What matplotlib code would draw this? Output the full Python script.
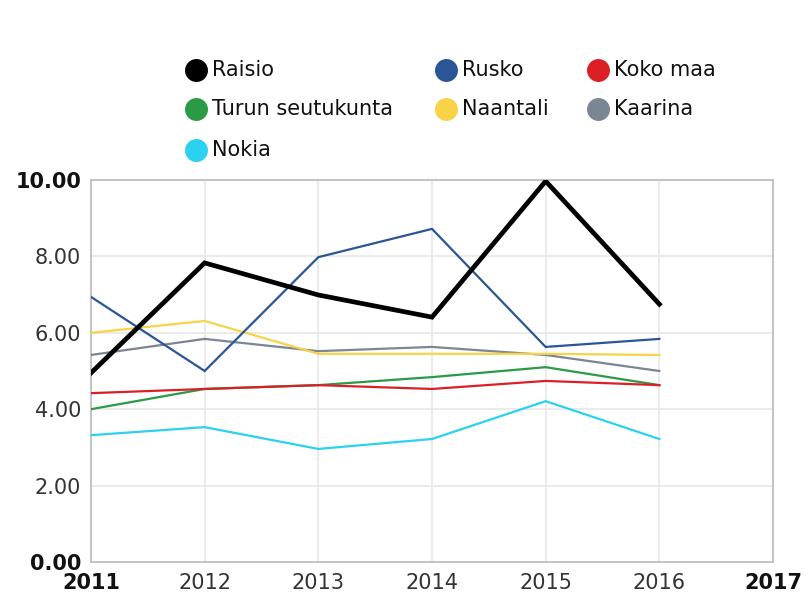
import numpy as np
import matplotlib
matplotlib.use("Agg")
import matplotlib.pyplot as plt
from matplotlib.lines import Line2D

years = [2011, 2012, 2013, 2014, 2015, 2016]

raisio = [4.95, 7.83, 6.99, 6.41, 9.97, 6.75]
rusko = [6.94, 5.0, 7.98, 8.72, 5.63, 5.84]
koko_maa = [4.42, 4.53, 4.63, 4.53, 4.74, 4.63]
turun = [4.0, 4.53, 4.63, 4.84, 5.1, 4.63]
naantali = [6.0, 6.31, 5.45, 5.45, 5.45, 5.42]
kaarina = [5.42, 5.84, 5.52, 5.63, 5.42, 5.0]
nokia = [3.32, 3.53, 2.96, 3.22, 4.21, 3.22]

names = ["Raisio", "Rusko", "Koko maa", "Turun seutukunta", "Naantali", "Kaarina", "Nokia"]
values = [raisio, rusko, koko_maa, turun, naantali, kaarina, nokia]
colors = ["#000000", "#2a5597", "#dc1f26", "#2a9a45", "#f8d348", "#7b8694", "#2bd1f0"]
widths = [3.4, 1.6, 1.6, 1.6, 1.6, 1.6, 1.6]

x_ticks = [2011, 2012, 2013, 2014, 2015, 2016, 2017]
y_ticks = [0, 2, 4, 6, 8, 10]

W, H = 808, 599
fig = plt.figure(figsize=(W / 100, H / 100), dpi=100)
ax = fig.add_axes([91 / W, 1 - 562 / H, (773 - 91) / W, (562 - 180) / H])

# draw in reverse so Raisio ends up on top
for i in [6, 5, 4, 3, 2, 1, 0]:
    ax.plot(years, values[i], color=colors[i], linewidth=widths[i],
            solid_joinstyle="miter", zorder=3 + (i == 0))

ax.set_xlim(2011, 2017)
ax.set_ylim(0, 10)
ax.set_xticks(x_ticks)
ax.set_yticks(y_ticks)
ax.set_xticklabels([str(t) for t in x_ticks])
ax.set_yticklabels([f"{t:.2f}" for t in y_ticks])
ax.tick_params(length=0, labelsize=15, labelcolor="#333333")
ax.tick_params(axis="y", pad=7)
ax.tick_params(axis="x", pad=8)
for lbl in (ax.get_xticklabels()[0], ax.get_xticklabels()[-1],
            ax.get_yticklabels()[0], ax.get_yticklabels()[-1]):
    lbl.set_fontweight("bold")
    lbl.set_color("#111111")

ax.grid(True, color="#e8e8e8", linewidth=1.2, zorder=0)
for s in ax.spines.values():
    s.set_color("#bbbbbb")
    s.set_linewidth(1.2)

# legend laid out row by row, three per row
leg_x = [196, 446, 598]
leg_y = [70, 109, 150]
for k, name in enumerate(names):
    px = leg_x[k % 3]
    py = leg_y[k // 3]
    fig.add_artist(Line2D([px / W], [1 - py / H], transform=fig.transFigure,
                          linestyle="none", marker="o", markersize=15.5,
                          markerfacecolor=colors[k], markeredgecolor=colors[k]))
    fig.text((px + 16) / W, 1 - py / H, name, fontsize=15, color="#111111",
             ha="left", va="center")

fig.savefig("out.png", dpi=100)
